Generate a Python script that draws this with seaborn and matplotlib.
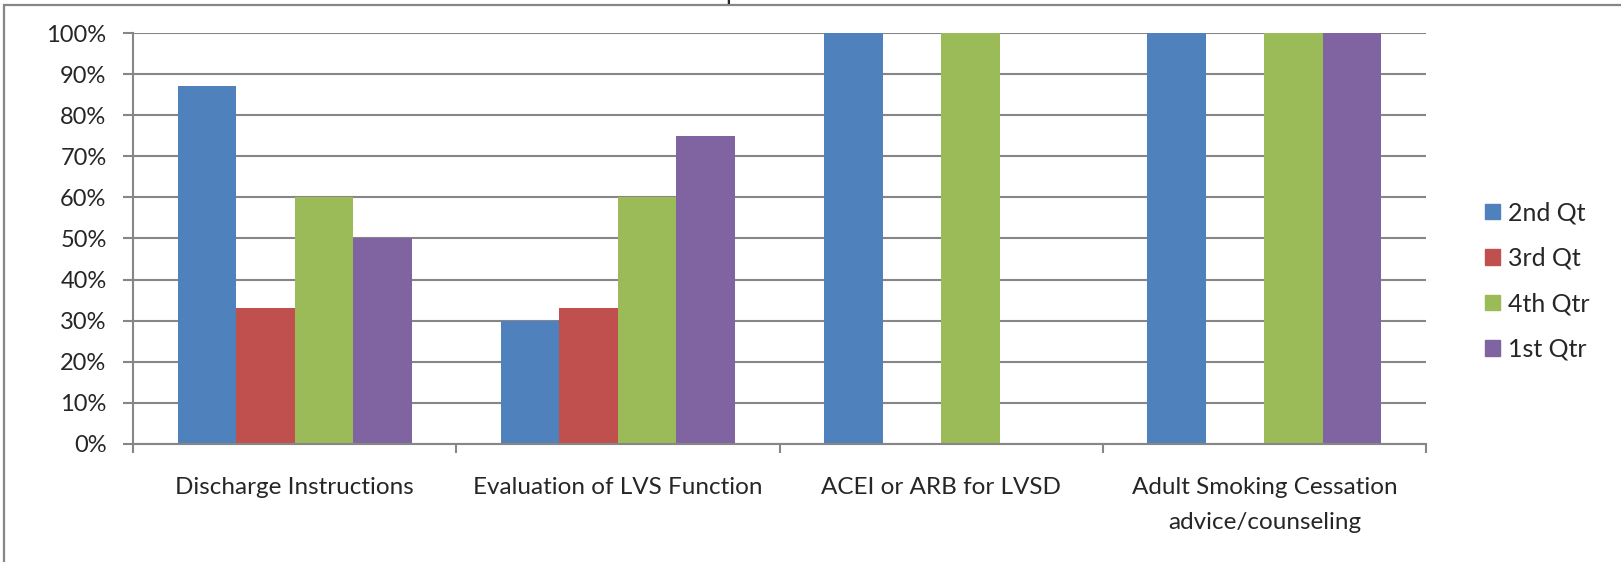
"""
Grafico de barras agrupadas: indicadores de calidad por trimestre.
"""

import matplotlib.pyplot as plt
import matplotlib.patches as mpatches
import matplotlib.ticker as mticker
import pandas as pd
import seaborn as sns

# Datos
CATEGORIAS = [
    "Discharge Instructions",
    "Evaluation of LVS Function",
    "ACEI or ARB for LVSD",
    "Adult Smoking Cessation\nadvice/counseling",
]
TRIMESTRES = ["2nd Qt", "3rd Qt", "4th Qtr", "1st Qtr"]
Q2 = [87, 30, 100, 100]
Q3 = [33, 33, 0, 0]
Q4 = [60, 60, 100, 100]
Q1 = [50, 75, 0, 100]

COLORES = ["#4F81BD", "#C0504D", "#9BBB59", "#8064A2"]
GRIS = "#868686"

sns.set_style("white")
plt.rcParams["font.family"] = ["Lato", "DejaVu Sans"]
plt.rcParams["font.size"] = 17

df = pd.DataFrame({
    "categoria": CATEGORIAS * 4,
    "trimestre": [t for t in TRIMESTRES for _ in CATEGORIAS],
    "valor": Q2 + Q3 + Q4 + Q1,
})

W, H = 1621, 562
fig = plt.figure(figsize=(W / 100, H / 100), dpi=100)
ax = fig.add_axes([133 / W, 1 - 444 / H, (1426 - 133) / W, (444 - 33) / H])

sns.barplot(
    data=df, x="categoria", y="valor", hue="trimestre",
    hue_order=TRIMESTRES, order=CATEGORIAS, palette=COLORES,
    width=0.724, linewidth=0, saturation=1, errorbar=None, ax=ax,
)

ax.set_ylim(0, 100)
ax.set_xlim(-0.5, 3.5)
ax.yaxis.set_major_locator(mticker.MultipleLocator(10))
ax.yaxis.set_major_formatter(mticker.FuncFormatter(lambda v, p: f"{v:.0f}%"))
ax.yaxis.grid(True, color=GRIS, linewidth=1.5)
ax.set_axisbelow(True)

ax.set_xticks(range(4))
ax.set_xticklabels(CATEGORIAS, fontsize=17.5, linespacing=1.78)
ax.set_xticks([-0.5, 0.5, 1.5, 2.5, 3.5], minor=True)
ax.tick_params(axis="x", which="major", length=0, pad=24)
ax.tick_params(axis="x", which="minor", length=6.5, width=1.5, color=GRIS,
               direction="out", bottom=True)
ax.tick_params(axis="y", length=7, width=1.5, color=GRIS, direction="out",
               left=True, labelsize=17, pad=12)
ax.set_xlabel("")
ax.set_ylabel("")

for lado in ["top", "right"]:
    ax.spines[lado].set_visible(False)
for lado in ["left", "bottom"]:
    ax.spines[lado].set_color(GRIS)
    ax.spines[lado].set_linewidth(1.5)

# Leyenda a la derecha
ax.legend_.remove()
handles = [mpatches.Patch(color=c, label=t) for c, t in zip(COLORES, TRIMESTRES)]
fig.legend(
    handles=handles, loc="center left", bbox_to_anchor=(1485 / W, 1 - 281 / H),
    frameon=False, fontsize=18, handlelength=0.6, handleheight=0.6,
    handletextpad=0.3, labelspacing=0.9, borderpad=0, borderaxespad=0,
)

# Borde del area del grafico (se sale por la derecha y abajo)
borde = mpatches.Rectangle(
    (4 / W, -0.1), 1.2, 1.1 - 5 / H, transform=fig.transFigure,
    fill=False, edgecolor=GRIS, linewidth=1.6,
)
fig.patches.append(borde)

# Titulo recortado: solo asoma el trazo de la "p"
fig.text(732 / W, 1.0, "p", ha="center", va="baseline", fontsize=18)

fig.savefig("out.png", dpi=100)
